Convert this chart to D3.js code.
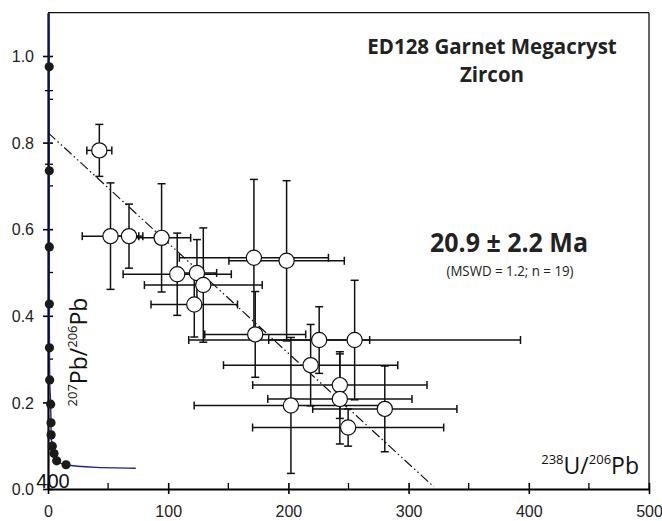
<!DOCTYPE html>
<html><head><meta charset="utf-8">
<script src="https://cdn.jsdelivr.net/npm/d3@7"></script>
<style>html,body{margin:0;padding:0;background:#fff;}svg{display:block;}</style>
</head><body>
<svg id="c" width="662" height="521"></svg>
<script>
// ---- data ----
const xVals = [42.7, 52.0, 67.4, 94.5, 107.5, 123.9, 129.2, 121.7, 171.3, 198.5, 172.4, 225.6, 255.1, 218.5, 242.8, 242.8, 202.1, 280.2, 249.7];
const yVals = [0.782, 0.584, 0.584, 0.580, 0.496, 0.499, 0.471, 0.426, 0.534, 0.527, 0.357, 0.344, 0.344, 0.286, 0.240, 0.208, 0.193, 0.185, 0.142];
const xErr  = [10.4, 23.5, 11.5, 24.2, 45.0, 16.4, 49.0, 36.0, 62.0, 48.0, 42.0, 42.0, 138.0, 72.5, 72.5, 60.0, 80.5, 60.0, 79.5];
const yErr  = [0.060, 0.123, 0.074, 0.125, 0.095, 0.077, 0.132, 0.075, 0.181, 0.185, 0.099, 0.077, 0.138, 0.094, 0.077, 0.104, 0.157, 0.099, 0.043];

const concordiaX = [0.8, 1.0, 1.1, 1.1, 1.1, 1.2, 1.4, 2.2, 2.5, 2.6, 3.6, 5.0, 7.2, 15.0, 40.0, 73.0];
const concordiaY = [1.1, 0.975, 0.735, 0.559, 0.427, 0.326, 0.252, 0.196, 0.153, 0.125, 0.099, 0.082, 0.065, 0.056, 0.050, 0.048];
const ageDotX = [1.0, 1.1, 1.1, 1.1, 1.2, 1.4, 2.2, 2.5, 2.6, 3.6, 5.0, 7.2, 15.0];
const ageDotY = [0.975, 0.735, 0.559, 0.427, 0.326, 0.252, 0.196, 0.153, 0.125, 0.099, 0.082, 0.065, 0.056];
const ageLabel = "400";

const discordiaX = [0, 321];
const discordiaY = [0.823, 0.005];

const xMajorTicks = [0, 100, 200, 300, 400, 500];
const xMinorTicks = [50, 150, 250, 350, 450];
const yMajorTicks = [0.0, 0.2, 0.4, 0.6, 0.8, 1.0];
const yMinorTicks = [0.1, 0.3, 0.5, 0.7, 0.9];
const yExtraTicks = [0.75, 0.92];

const titleLines = ["ED128 Garnet Megacryst", "Zircon"];
const ageText = "20.9 ± 2.2 Ma";
const statsText = "(MSWD = 1.2; n = 19)";

// ---- drawing ----
const svg = d3.select("#c");
const x = d3.scaleLinear().domain([0, 500]).range([48, 649]);
const y = d3.scaleLinear().domain([0, 1.1]).range([489, 12.7]);
const tickFont = "'Liberation Sans', Arial, sans-serif";
const labFont = "'Open Sans', 'Noto Sans', sans-serif";

function fitWidth(sel, target) {
  const w = sel.node().getComputedTextLength();
  if (w > target) sel.attr("textLength", target).attr("lengthAdjust", "spacingAndGlyphs");
}

// frame
svg.append("line").attr("x1", x(0)).attr("x2", x(500)).attr("y1", y(1.1)).attr("y2", y(1.1)).attr("stroke", "#111").attr("stroke-width", 1.3);
svg.append("line").attr("x1", x(500)).attr("x2", x(500)).attr("y1", y(1.1)).attr("y2", y(0)).attr("stroke", "#111").attr("stroke-width", 1.3);

// x axis
const xAxis = d3.axisBottom(x).tickValues(xMajorTicks).tickSize(0).tickFormat(d3.format("d"));
const gx = svg.append("g").attr("transform", `translate(0,${y(0)})`).call(xAxis);
gx.select(".domain").attr("stroke", "#000").attr("stroke-width", 2.2);
gx.selectAll(".tick text").attr("font-family", tickFont).attr("font-size", 16).attr("fill", "#222").attr("dy", 0).attr("y", 28);
gx.selectAll(".tick").append("line").attr("y1", -6).attr("y2", 5).attr("stroke", "#000").attr("stroke-width", 1.6);
gx.selectAll(".minor").data(xMinorTicks).enter().append("line")
  .attr("x1", d => x(d)).attr("x2", d => x(d)).attr("y1", -6).attr("y2", 0).attr("stroke", "#000").attr("stroke-width", 1.3);

// y axis
const yAxis = d3.axisLeft(y).tickValues(yMajorTicks).tickSize(0).tickFormat(d3.format(".1f"));
const gy = svg.append("g").attr("transform", `translate(${x(0)},0)`).call(yAxis);
gy.select(".domain").attr("stroke", "#000").attr("stroke-width", 2.2);
gy.selectAll(".tick text").attr("font-family", tickFont).attr("font-size", 16).attr("fill", "#222").attr("x", -14).attr("dy", "0.35em");
gy.selectAll(".tick").append("line").attr("x1", -5).attr("x2", 5).attr("stroke", "#000").attr("stroke-width", 1.6);
gy.selectAll(".minor").data(yMinorTicks).enter().append("line")
  .attr("y1", d => y(d)).attr("y2", d => y(d)).attr("x1", 0).attr("x2", 5).attr("stroke", "#000").attr("stroke-width", 1.3);
gy.selectAll(".extra").data(yExtraTicks).enter().append("line")
  .attr("y1", d => y(d)).attr("y2", d => y(d)).attr("x1", -3).attr("x2", 5).attr("stroke", "#000").attr("stroke-width", 1.3);

// concordia
const concPts = concordiaX.map((d, i) => [d, concordiaY[i]]);
svg.append("path").datum(concPts)
  .attr("d", d3.line().x(d => x(d[0])).y(d => y(d[1])).curve(d3.curveMonotoneY))
  .attr("fill", "none").attr("stroke", "#1c2580").attr("stroke-width", 1.4);
svg.selectAll(".agedot").data(ageDotX).enter().append("circle")
  .attr("cx", d => x(d)).attr("cy", (d, i) => y(ageDotY[i])).attr("r", 4.6).attr("fill", "#1a1a1a");
svg.append("text").attr("x", x(ageDotX[ageDotX.length - 1]) - 13).attr("y", 488)
  .attr("text-anchor", "middle").attr("font-family", tickFont).attr("font-size", 20).attr("fill", "#111").text(ageLabel);

// discordia
svg.append("line").attr("x1", x(discordiaX[0])).attr("y1", y(discordiaY[0])).attr("x2", x(discordiaX[1])).attr("y2", y(discordiaY[1]))
  .attr("stroke", "#111").attr("stroke-width", 1.2).attr("stroke-dasharray", "10,3,1.5,3,1.5,3");

// error bars
const cap = 4;
const eb = svg.append("g").attr("stroke", "#111").attr("stroke-width", 1.5);
xVals.forEach((xv, i) => {
  const yv = yVals[i];
  const x0 = x(xv - xErr[i]), x1 = x(xv + xErr[i]);
  const y0 = y(yv - yErr[i]), y1 = y(yv + yErr[i]);
  const cx = x(xv), cy = y(yv);
  eb.append("line").attr("x1", x0).attr("x2", x1).attr("y1", cy).attr("y2", cy);
  eb.append("line").attr("x1", x0).attr("x2", x0).attr("y1", cy - cap).attr("y2", cy + cap);
  eb.append("line").attr("x1", x1).attr("x2", x1).attr("y1", cy - cap).attr("y2", cy + cap);
  eb.append("line").attr("x1", cx).attr("x2", cx).attr("y1", y0).attr("y2", y1);
  eb.append("line").attr("x1", cx - cap).attr("x2", cx + cap).attr("y1", y0).attr("y2", y0);
  eb.append("line").attr("x1", cx - cap).attr("x2", cx + cap).attr("y1", y1).attr("y2", y1);
});
svg.selectAll(".pt").data(xVals).enter().append("circle")
  .attr("cx", d => x(d)).attr("cy", (d, i) => y(yVals[i])).attr("r", 7.6)
  .attr("fill", "#fff").attr("stroke", "#111").attr("stroke-width", 1.2);

// axis titles
const xl = svg.append("text").attr("x", 639).attr("y", 474).attr("text-anchor", "end")
  .attr("font-family", labFont).attr("font-size", 23).attr("fill", "#111");
xl.append("tspan").attr("font-size", 13).attr("dy", -10).text("238");
xl.append("tspan").attr("dy", 10).text("U/");
xl.append("tspan").attr("font-size", 13).attr("dy", -10).text("206");
xl.append("tspan").attr("dy", 10).text("Pb");

const yl = svg.append("text").attr("transform", "translate(87,352) rotate(-90)").attr("text-anchor", "middle")
  .attr("font-family", labFont).attr("font-size", 23).attr("fill", "#111");
yl.append("tspan").attr("font-size", 13).attr("dy", -10).text("207");
yl.append("tspan").attr("dy", 10).text("Pb/");
yl.append("tspan").attr("font-size", 13).attr("dy", -10).text("206");
yl.append("tspan").attr("dy", 10).text("Pb");

// annotations
const annFont = "'Open Sans', sans-serif";
const t1 = svg.append("text").attr("x", 492).attr("y", 54).attr("text-anchor", "middle").attr("font-family", annFont)
  .attr("font-weight", "bold").attr("font-size", 20.5).attr("fill", "#222").text(titleLines[0]);
fitWidth(t1, 266);
const t2 = svg.append("text").attr("x", 492).attr("y", 81.5).attr("text-anchor", "middle").attr("font-family", annFont)
  .attr("font-weight", "bold").attr("font-size", 20.5).attr("fill", "#222").text(titleLines[1]);
fitWidth(t2, 66);
const t3 = svg.append("text").attr("x", 509).attr("y", 252).attr("text-anchor", "middle").attr("font-family", annFont)
  .attr("font-weight", "bold").attr("font-size", 27).attr("fill", "#222").text(ageText);
fitWidth(t3, 158);
const t4 = svg.append("text").attr("x", 510).attr("y", 276).attr("text-anchor", "middle").attr("font-family", annFont)
  .attr("font-size", 14.5).attr("fill", "#222").text(statsText);
fitWidth(t4, 127);
</script>
</body></html>
